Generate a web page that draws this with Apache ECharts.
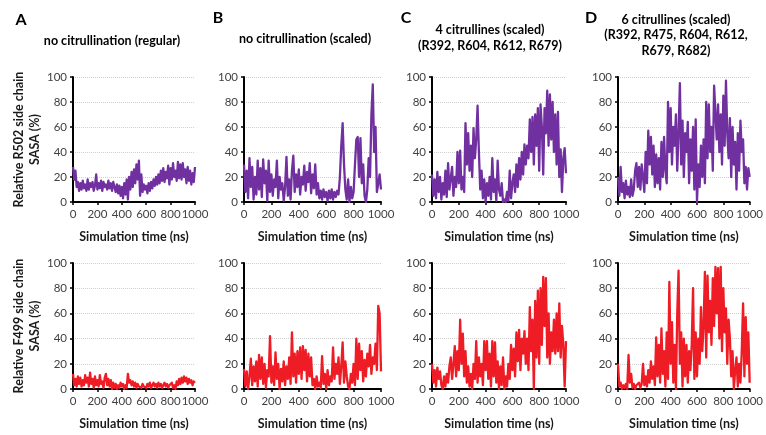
<!DOCTYPE html>
<html><head><meta charset="utf-8">
<script src="https://cdn.jsdelivr.net/npm/echarts@6/dist/echarts.min.js"></script>
<style>html,body{margin:0;padding:0;background:#fff}#c{width:766px;height:435px}</style>
</head><body><div id="c"></div>
<script>
// time axis (ns), one sample every 10 ns
const times = Array.from({length: 101}, (_, i) => i * 10);
const xTicks = [0, 200, 400, 600, 800, 1000];
const yTicks = [0, 20, 40, 60, 80, 100];

const panelLetters = ['A', 'B', 'C', 'D'];
const panelTitles = [
  ['no citrullination (regular)'],
  ['no citrullination (scaled)'],
  ['4 citrullines (scaled)', '(R392, R604, R612, R679)'],
  ['6 citrullines (scaled)', '(R392, R475, R604, R612,', 'R679, R682)']
];
const rowNames = ['Relative R502 side chain\nSASA (%)', 'Relative F499 side chain\nSASA (%)'];
const xName = 'Simulation time (ns)';

// Relative R502 side chain SASA (%)
const r502A = [28,18,25,12,16, 9,15,10,17,11, 14,9,18,10,15, 12,16,9,13,22, 10,15,11,17,9, 16,12,14,10,17, 11,15,9,16,12, 8,14,7,13,5, 12,3,15,6,18, 2,20,10,24,12, 26,15,30,18,33, 5,22,8,14,10, 13,7,15,9,16, 11,18,13,20,14, 22,15,25,17,27, 16,24,19,29,14, 27,18,31,20,25, 17,32,19,30,18, 31,20,26,15,28, 17,25,14,23,16, 28];
const r502B = [30,8,25,3,35, 12,28,2,20,6, 33,10,27,4,34, 15,25,1,33,8, 22,5,18,12,33, 3,20,10,15,1, 12,36,5,18,2, 25,37,8,22,12, 26,6,20,14,29, 9,24,16,31,7, 22,11,30,6,15, 3,9,2,10,4, 8,1,9,3,10, 2,8,4,9,6, 20,45,63,30,10, 2,18,0,12,3, 8,30,50,52,20, 51,15,30,5,0, 10,35,20,70,94, 40,60,8,15,22, 10];
const r502C = [22,5,18,3,24, 8,20,2,15,6, 25,4,31,10,19, 28,5,20,12,40, 15,41,10,20,8, 63,30,55,25,45, 20,59,35,50,77, 40,10,25,3,18, 0,15,5,20,2, 35,8,18,1,33, 10,5,15,0,2, 0,8,1,25,3, 15,22,8,30,12, 35,18,40,22,46, 30,45,35,66,40, 68,30,70,45,75, 25,78,60,22,75, 55,89,45,86,50, 80,40,70,30,72, 20,42,8,35,43, 23];
const r502D = [20,5,28,8,15, 3,17,6,12,4, 18,5,10,25,31, 12,28,10,30,20, 8,40,15,57,30, 52,22,45,12,38, 15,35,10,48,20, 52,25,15,80,40, 75,30,60,45,70, 25,55,95,30,65, 20,55,40,64,15, 50,25,60,10,66, 0,30,12,45,20, 50,15,80,35,78, 40,60,25,93,94, 50,78,40,70,30, 85,45,97,55,35, 67,20,60,30,48, 10,55,25,65,40, 50,15,28,10,27, 20];

// Relative F499 side chain SASA (%)
const f499A = [12,3,8,2,10, 4,9,2,7,3, 11,5,9,2,13, 4,8,1,10,3, 7,2,11,4,6, 1,9,12,3,8, 2,7,0,5,1, 4,0,3,1,5, 2,4,0,3,1, 12,5,7,3,6, 2,5,1,4,2, 3,1,4,2,3, 1,4,2,5,1, 3,5,2,4,1, 5,2,4,1,3, 5,2,4,1,3, 2,5,1,3,0, 6,3,8,4,9, 5,10,6,9,4, 8,5,7,3,6, 5];
const f499B = [16,2,14,0,10, 24,3,18,6,22, 2,27,8,25,4, 20,1,15,10,42, 5,18,3,29,8, 20,0,16,6,22, 3,18,8,25,4, 45,10,28,5,30, 12,33,8,34,15, 31,6,28,10,25, 3,8,0,10,2, 5,1,26,4,12, 0,15,3,10,6, 33,8,20,12,25, 4,18,37,5,22, 10,2,0,12,5, 20,3,40,8,36, 15,30,6,23,10, 28,18,35,12,25, 20,36,15,66,60, 14];
const f499C = [20,5,15,2,17, 8,14,3,0,10, 2,12,5,18,25, 8,20,34,10,30, 15,55,20,44,10, 30,5,18,2,12, 0,20,8,38,5, 25,10,20,3,38, 15,38,8,28,2, 38,10,37,5,22, 0,18,3,25,0, 10,2,20,8,35, 15,32,10,45,22, 47,15,40,28,46, 20,40,15,65,30, 55,0,70,25,78, 20,80,35,89,50, 88,25,60,20,45, 30,55,28,60,30, 68,25,50,35,2, 38];
const f499D = [20,2,5,0,3, 1,4,0,27,5, 12,1,4,0,3, 2,5,1,4,20, 3,10,2,15,5, 22,8,18,3,41, 10,35,5,48,12, 30,2,45,8,85, 20,53,5,35,0, 60,94,20,45,2, 40,10,35,5,30, 15,35,80,8,45, 10,40,20,65,30, 50,93,25,90,45, 70,35,88,50,97, 60,96,40,97,30, 80,45,64,20,55, 40,10,30,0,15, 25,2,20,5,30, 68,10,57,20,45, 5];

const rows = [[r502A, r502B, r502C, r502D], [f499A, f499B, f499C, f499D]];
const rowColors = ['#7030A0', '#EE1C24'];

const FONT = 'Lato';
const colLeft = [73, 244, 432, 618];
const colWidth = [122, 137, 134, 135];
const rowTop = [77, 263];
const rowHeight = [125, 126];

const grids = [], xAxes = [], yAxes = [], series = [];
rows.forEach((row, r) => {
  row.forEach((vals, c) => {
    const idx = grids.length;
    grids.push({left: colLeft[c], top: rowTop[r], width: colWidth[c], height: rowHeight[r], containLabel: false});
    xAxes.push({
      type: 'value', gridIndex: idx, min: xTicks[0], max: xTicks[xTicks.length - 1], interval: 200,
      name: xName, nameLocation: 'middle', nameGap: 28,
      nameTextStyle: {fontFamily: FONT, fontWeight: 'bold', fontSize: 12.5, color: '#1a1a1a'},
      axisLine: {show: true, onZero: false, lineStyle: {color: '#000', width: 2}},
      axisTick: {show: true, length: 3, lineStyle: {color: '#000', width: 1.5}},
      axisLabel: {fontFamily: FONT, fontSize: 11.5, color: '#404040', margin: 6, formatter: v => String(v)},
      splitLine: {show: false}
    });
    yAxes.push({
      type: 'value', gridIndex: idx, min: yTicks[0], max: yTicks[yTicks.length - 1], interval: 20,
      name: c === 0 ? rowNames[r] : '', nameLocation: 'middle', nameGap: 30, nameRotate: 90,
      nameTextStyle: {fontFamily: FONT, fontWeight: 'bold', fontSize: 12.5, color: '#1a1a1a', lineHeight: 16},
      axisLine: {show: true, lineStyle: {color: '#000', width: 2}},
      axisTick: {show: true, length: 3, lineStyle: {color: '#000', width: 1.5}},
      axisLabel: {fontFamily: FONT, fontSize: 11.5, color: '#404040', margin: 6, formatter: v => String(v)},
      splitLine: {show: true, lineStyle: {color: '#d0d0d0', type: 'dotted', width: 1}}
    });
    series.push({
      type: 'line', xAxisIndex: idx, yAxisIndex: idx,
      data: times.map((t, i) => [t, vals[i]]),
      showSymbol: false, symbol: 'none', animation: false,
      lineStyle: {color: rowColors[r], width: 2.3, join: 'round'},
      itemStyle: {color: rowColors[r]}
    });
  });
});

const graphics = [];
const letterPos = [[21, 20], [218, 18], [406, 18], [591, 18]];
panelLetters.forEach((L, i) => {
  graphics.push({type: 'text', x: letterPos[i][0], y: letterPos[i][1],
    style: {text: L, font: 'bold 16px ' + FONT, fill: '#000', textAlign: 'center', textVerticalAlign: 'middle'}});
});
const titleCenters = [[112, 41], [305, 39], [490, 38], [676, 35]];
panelTitles.forEach((lines, i) => {
  graphics.push({type: 'text', x: titleCenters[i][0], y: titleCenters[i][1],
    style: {text: lines.join('\n'), font: 'bold 12.5px ' + FONT, lineHeight: 15.5, fill: '#000', textAlign: 'center', textVerticalAlign: 'middle'}});
});

const chart = echarts.init(document.getElementById('c'), null, {renderer: 'canvas'});
chart.setOption({
  animation: false,
  backgroundColor: '#fff',
  grid: grids, xAxis: xAxes, yAxis: yAxes, series: series,
  graphic: graphics
});
</script></body></html>
